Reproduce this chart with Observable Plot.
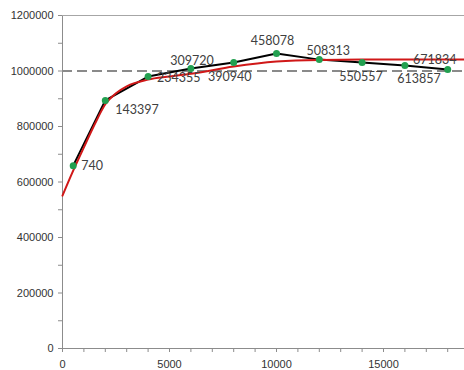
<!DOCTYPE html>
<html>
<head>
<meta charset="utf-8">
<script src="https://cdn.jsdelivr.net/npm/d3@7"></script>
<script src="https://cdn.jsdelivr.net/npm/@observablehq/plot@0.6"></script>
<style>
  html, body { margin: 0; padding: 0; background: #fff; }
  #chart svg { display: block; }
</style>
</head>
<body>
<div id="chart"></div>
<script>
// Observed data points (x, y) with their data labels
const xs = [500, 2000, 4000, 6000, 8000, 10000, 12000, 14000, 16000, 18000];
const ys = [659000, 894000, 980000, 1009000, 1031000, 1063000, 1041000, 1031000, 1020000, 1005000];
const labels = ["740", "143397", "234355", "309720", "390940", "458078", "508313", "550557", "613857", "671834"];

// Fitted curve (red)
const fitX = [0, 500, 1000, 1500, 2000, 2500, 3000, 4000, 5000, 6000, 8000, 10000, 12000, 14000, 16000, 18800];
const fitY = [551000, 641000, 725000, 807000, 880000, 920000, 945000, 969000, 980000, 990000, 1016000, 1034000, 1040000, 1041000, 1041000, 1041000];

// Reference level
const refLevel = [1000000];

// Axis ticks
const yTicks = [0, 200000, 400000, 600000, 800000, 1000000, 1200000];
const yMinor = [100000, 300000, 500000, 700000, 900000, 1100000];
const xTicks = [0, 5000, 10000, 15000];
const xMinor = d3.range(0, 19000, 1000);

// Label placement (styling only): [dx, dy, anchor]
const labelPlace = [
  [8, 0, "start"], [10, 10, "start"], [9, 1, "start"], [1, -8, "middle"], [-4, 15, "middle"],
  [-4, -13, "middle"], [9, -9, "middle"], [-1, 15, "middle"], [14, 14, "middle"], [-13, -10, "middle"]
];

const pts = xs.map((x, i) => ({x, y: ys[i], label: labels[i]}));
const fit = fitX.map((x, i) => ({x, y: fitY[i]}));

const axisGrey = "#8c8c8c";
const textCol = "#333";

const labelMarks = pts.map((d, i) => Plot.text([d], {
  x: "x", y: "y", text: "label",
  dx: labelPlace[i][0], dy: labelPlace[i][1], textAnchor: labelPlace[i][2],
  fill: "#404040", fontSize: 12.5, fontFamily: "Lato"
}));

const chart = Plot.plot({
  width: 464,
  height: 370,
  marginLeft: 62,
  marginRight: 0,
  marginTop: 15,
  marginBottom: 22,
  style: {fontFamily: "Liberation Sans, Arial, sans-serif", fontSize: "11px", background: "#fff"},
  x: {domain: [0, 18785]},
  y: {domain: [0, 1200000]},
  marks: [
    Plot.axisY({ticks: yTicks, tickSize: 4, tickPadding: 5, tickFormat: d => String(d), stroke: axisGrey, fill: textCol, label: null}),
    Plot.axisY({ticks: yMinor, tickSize: 4, text: null, stroke: axisGrey, label: null}),
    Plot.axisX({ticks: xTicks, tickSize: 4, tickPadding: 8, tickFormat: d => String(d), stroke: axisGrey, fill: textCol, label: null}),
    Plot.axisX({ticks: xMinor, tickSize: 4, text: null, stroke: axisGrey, label: null}),
    Plot.ruleX([0], {stroke: axisGrey, strokeWidth: 1}),
    Plot.ruleY([0], {stroke: axisGrey, strokeWidth: 1}),
    Plot.ruleY([1200000], {stroke: "#a6a6a6", strokeWidth: 1}),
    Plot.ruleY(refLevel, {stroke: "#8a8a8a", strokeWidth: 2, strokeDasharray: "10,5"}),
    Plot.line(pts, {x: "x", y: "y", stroke: "#000", strokeWidth: 2}),
    Plot.line(fit, {x: "x", y: "y", stroke: "#d01818", strokeWidth: 2, curve: "monotone-x"}),
    Plot.dot(pts, {x: "x", y: "y", fill: "#22a050", r: 3.5}),
    ...labelMarks
  ]
});
document.getElementById("chart").appendChild(chart);
</script>
</body>
</html>
